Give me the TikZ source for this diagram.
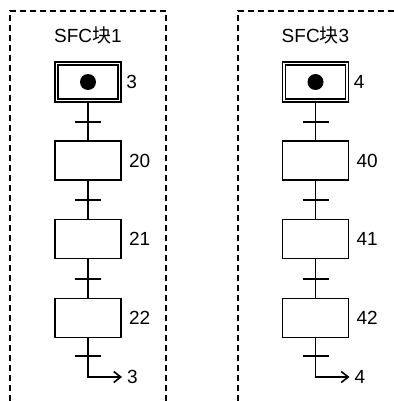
\documentclass[tikz,border=0pt]{standalone}
\usepackage{fontspec}
\setmainfont{Liberation Sans}
\newfontfamily\cjk{Noto Sans CJK SC}
\usetikzlibrary{arrows.meta}
\begin{document}
\begin{tikzpicture}[x=1pt,y=-1pt,
  every node/.style={font=\fontsize{19}{21}\selectfont},
  frame/.style={line width=1.9pt,dash pattern=on 6pt off 4pt},
  stepbox/.style={draw,line width=1.9pt,minimum width=66pt,minimum height=39pt,inner sep=0pt},
  initbox/.style={draw,line width=1.5pt,double=white,double distance=1.6pt,minimum width=63pt,minimum height=37pt,inner sep=0pt},
  dotnode/.style={circle,fill=black,minimum size=16pt,inner sep=0pt},
  lab/.style={anchor=west,inner sep=0pt},
  link/.style={line width=1.9pt},
  bar/.style={line width=1.9pt},
  jump/.style={line width=1.9pt,-{Straight Barb[length=7pt,width=11pt,line width=1.6pt]}}
]
\useasboundingbox (0,0) rectangle (393,401);
% ---------- block 1 ----------
\draw[frame] (10,401) -- (10,11) -- (166,11) -- (166,401);
\node (ta) at (88,35.5) {SFC{\cjk 块}1};
\node[initbox] (ia) at (88,82) {};
\node[dotnode] (da) at (ia.center) {};
\node[stepbox] (a20) at (88,160.5) {};
\node[stepbox] (a21) at (88,239) {};
\node[stepbox] (a22) at (88,318) {};
\node[lab] (la3) at ([xshift=6pt]ia.east) {3};
\node[lab] (la20) at ([xshift=7pt]a20.east) {20};
\node[lab] (la21) at ([xshift=7pt]a21.east) {21};
\node[lab] (la22) at ([xshift=7pt]a22.east) {22};
\coordinate (at1) at (88,122);
\coordinate (at2) at (88,200);
\coordinate (at3) at (88,279);
\coordinate (at4) at (88,356);
\coordinate (ae) at (88,377);
\coordinate (aa) at (122,377);
\draw[link] (ia.south) -- (a20.north);
\draw[link] (a20.south) -- (a21.north);
\draw[link] (a21.south) -- (a22.north);
\draw[jump] (a22.south) -- (ae) -- (aa);
\foreach \t in {at1,at2,at3,at4} \draw[bar] ([xshift=-13pt]\t) -- ([xshift=13pt]\t);
\node[lab] (lae) at ([xshift=5pt]aa) {3};
% ---------- block 3 ----------
\draw[frame] (238,401) -- (238,11) -- (396,11);
\node (tb) at (315.5,35.5) {SFC{\cjk 块}3};
\node[initbox] (ib) at (315.5,82) {};
\node[dotnode] (db) at (ib.center) {};
\node[stepbox] (b40) at (315.5,160.5) {};
\node[stepbox] (b41) at (315.5,239) {};
\node[stepbox] (b42) at (315.5,318) {};
\node[lab] (lb4) at ([xshift=6pt]ib.east) {4};
\node[lab] (lb40) at ([xshift=7pt]b40.east) {40};
\node[lab] (lb41) at ([xshift=7pt]b41.east) {41};
\node[lab] (lb42) at ([xshift=7pt]b42.east) {42};
\coordinate (bt1) at (315.5,122);
\coordinate (bt2) at (315.5,200);
\coordinate (bt3) at (315.5,279);
\coordinate (bt4) at (315.5,356);
\coordinate (be) at (315.5,377);
\coordinate (ba) at (349.5,377);
\draw[link] (ib.south) -- (b40.north);
\draw[link] (b40.south) -- (b41.north);
\draw[link] (b41.south) -- (b42.north);
\draw[jump] (b42.south) -- (be) -- (ba);
\foreach \t in {bt1,bt2,bt3,bt4} \draw[bar] ([xshift=-13pt]\t) -- ([xshift=13pt]\t);
\node[lab] (lbe) at ([xshift=5pt]ba) {4};
\end{tikzpicture}
\end{document}
